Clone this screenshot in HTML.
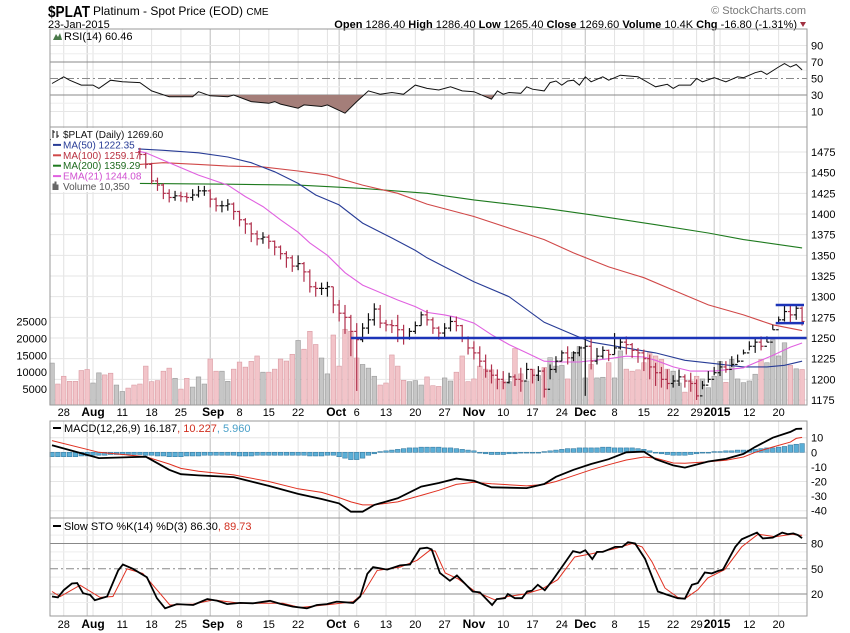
<!DOCTYPE html>
<html><head><meta charset="utf-8"><style>
html,body{margin:0;padding:0;background:#fff;}
svg{display:block;font-family:"Liberation Sans",Arial,sans-serif;}
</style></head><body>
<svg id="c" width="850" height="633" viewBox="0 0 850 633" xmlns="http://www.w3.org/2000/svg">
<g>
<text x="48" y="17" font-size="16" font-weight="bold" textLength="42" lengthAdjust="spacingAndGlyphs">$PLAT</text>
<text x="93" y="15" font-size="12">Platinum  - Spot Price (EOD) <tspan font-size="10">CME</tspan></text>
<text x="48" y="28" font-size="11">23-Jan-2015</text>
<text x="806" y="14" font-size="11" fill="#777" text-anchor="end">© StockCharts.com</text>
<text x="797" y="28" font-size="11" text-anchor="end"><tspan font-weight="bold">Open</tspan> 1286.40  <tspan font-weight="bold">High</tspan> 1286.40  <tspan font-weight="bold">Low</tspan> 1265.40  <tspan font-weight="bold">Close</tspan> 1269.60  <tspan font-weight="bold">Volume</tspan> 10.4K  <tspan font-weight="bold">Chg</tspan> -16.80 (-1.31%)</text>
<path d="M800 22 L806 22 L803 27 Z" fill="#a03040"/>
</g>
<g id="grid"></g>
<g id="marks"></g>
<g id="frames"></g>
</svg>
<script>
// ---------- DATA ----------
const closes = [1490,1488,1485,1484,1480,1478,1476,1480,1482,1478,1475,1479,1481,1477,1475,
1472,1460,1440,1435,1425,1420,1422,1421,1420,1423,1428,1428,1418,1410,1410,1412,1403,1393,1388,1376,1370,1372,1367,1360,1352,1347,1337,1340,1330,1312,1310,1310,1312,1290,1280,1275,1258,
1248,1262,1272,1285,1268,1266,1265,1260,1250,1258,1265,1278,1272,
1262,1256,1262,1270,1265,1250,1238,1232,1222,1210,1205,1200,1196,1203,1200,1198,1212,1205,1210,1188,1212,1222,1232,1226,1232,1238,1240,1222,1228,1235,1230,1238,1245,1242,1235,1232,1225,1215,1208,1200,1195,1198,1203,1198,1195,1180,1193,1200,1208,1215,1212,1218,1222,1232,1240,1245,1240,1245,1260,1272,1282,1278,1286,1270];
const highs = [1496,1494,1492,1490,1488,1484,1482,1486,1488,1485,1482,1485,1487,1484,1481,
1480,1474,1462,1444,1437,1430,1428,1427,1426,1430,1434,1434,1430,1420,1416,1418,1414,1404,1395,1390,1380,1378,1375,1368,1362,1355,1350,1350,1342,1333,1318,1317,1318,1312,1296,1290,1278,
1268,1268,1280,1292,1290,1272,1272,1278,1266,1262,1270,1282,1284,
1275,1264,1268,1276,1276,1266,1252,1246,1240,1230,1218,1212,1210,1208,1206,1214,1220,1212,1216,1214,1218,1228,1235,1240,1234,1240,1252,1250,1238,1240,1236,1256,1250,1252,1244,1238,1236,1230,1220,1215,1212,1205,1212,1206,1208,1200,1198,1210,1215,1222,1222,1228,1230,1236,1246,1250,1252,1252,1266,1276,1290,1290,1290,1288];
const lows = [1484,1482,1480,1478,1475,1472,1470,1474,1476,1472,1470,1472,1475,1471,1468,
1466,1455,1436,1428,1418,1414,1416,1415,1414,1416,1420,1422,1408,1403,1402,1404,1393,1385,1376,1366,1362,1364,1358,1350,1345,1335,1330,1332,1318,1305,1300,1302,1300,1280,1270,1255,1228,
1186,1245,1255,1265,1262,1258,1256,1245,1242,1248,1255,1265,1265,
1255,1248,1250,1258,1258,1245,1230,1224,1215,1202,1195,1188,1188,1195,1192,1185,1200,1195,1198,1178,1200,1208,1222,1218,1222,1228,1180,1212,1218,1225,1222,1230,1236,1230,1226,1220,1210,1200,1192,1190,1188,1190,1192,1190,1185,1175,1188,1196,1205,1204,1208,1215,1220,1230,1235,1232,1235,1245,1260,1268,1270,1268,1272,1265];
const volumes = [12.7,6.5,8.8,7.3,7.3,10.5,10.8,6.8,9.8,9.2,9.7,6.2,4.3,5.3,6.2,6.5,11.8,7.2,7.5,10.3,11.2,8.2,5.0,8.2,5.6,8.6,6.5,13.9,10.3,10.3,7.3,10.9,13.0,11.5,13.2,14.8,10.0,10.0,10.9,13.9,13.3,15.3,19.4,16.8,22.1,18.2,14.2,9.5,21.0,11.8,22.7,22.1,14.2,12.3,11.2,8.8,6.2,6.8,15.1,11.8,7.6,7.2,7.5,6.2,
8.6,6.0,5.8,8.3,7.4,10.0,14.8,7.2,8.0,11.8,10.9,10.7,8.0,7.4,7.2,17.0,9.5,7.4,10.9,9.0,11.4,14.3,11.8,12.0,8.0,15.9,17.6,8.3,12.3,8.3,8.5,12.8,8.3,16.3,10.9,10.3,10.7,12.8,15.8,14.8,13.8,10.9,10.3,6.8,4.1,7.4,8.8,8.0,5.4,8.8,13.2,7.0,13.8,8.0,6.9,7.4,9.4,13.8,12.8,19.6,14.8,18.7,12.0,11.0,10.8];
const ma50Days = [14,19,25,30,34,38,42,45,49,53,58,62,64,67,72,78,84,89,92,98,103,108,113,118,122,125,128];
const ma50Vals = [1479,1477,1474,1469,1462,1451,1437,1423,1411,1389,1371,1356,1347,1336,1318,1300,1269,1254,1245,1238,1232,1223,1219,1215,1215,1217,1222];
const ma100Days = [15,19,25,30,36,42,47,53,59,64,72,78,84,89,95,101,106,112,118,123,128];
const ma100Vals = [1460,1462,1460,1458,1457,1452,1447,1435,1425,1412,1397,1383,1369,1353,1336,1323,1308,1290,1278,1266,1259];
const ma200Days = [15,30,42,53,64,72,84,92,103,112,118,128];
const ma200Vals = [1437,1436,1435,1431,1425,1417,1407,1399,1387,1377,1369,1359];
const emaDays = [14,16,19,25,30,33,36,39,42,44,47,50,53,59,62,64,67,69,72,75,78,81,84,87,90,95,98,101,103,106,109,113,118,120,123,126,128];
const emaVals = [1477,1474,1465,1447,1435,1421,1409,1393,1378,1365,1350,1329,1314,1296,1288,1281,1278,1275,1268,1254,1242,1232,1222,1221,1221,1225,1228,1227,1223,1215,1210,1210,1214,1220,1229,1239,1244];
const rsiDays = [0,2,3,5,7,8,10,12,15,17,20,24,25,27,30,31,34,37,38,39,42,43,46,47,50,52,54,56,58,60,62,64,66,68,70,72,74,75,76,77,78,80,81,82,84,85,86,87,88,89,90,91,92,94,95,97,100,102,103,105,106,107,109,110,111,113,115,117,118,120,121,122,124,125,126,127,128];
const rsiVals = [44,52,48,42,42,38,48,46,45,35,28,28,34,29,28,30,22,20,22,19,14,18,16,18,8,22,35,31,33,31,42,38,36,40,35,34,28,25,35,31,33,32,40,37,35,45,47,42,47,48,42,52,46,52,48,54,52,44,40,43,38,42,42,50,46,51,46,52,51,57,59,55,64,68,64,67,60.46];
const macdDays = [0,8,16,20,22,25,31,37,42,46,49,51,53,55,59,63,66,69,72,75,81,84,86,89,92,95,98,101,103,106,108,112,115,118,120,123,126,127,128];
const macdVals = [4.8,-4,-3,-12,-15,-15.8,-17,-23,-28.5,-32,-35,-40.7,-40.7,-36,-31.5,-23.5,-21,-18,-19.5,-24,-24.5,-21.7,-16.8,-12,-8,-4.7,0,0.5,-4.7,-9,-10.5,-6.3,-4.5,-1.1,3.7,10,14,16,16.187];
const signalVals = [8,0,-3,-8,-11,-13,-15.5,-20,-25,-27.5,-31,-34,-36,-36,-34,-29.5,-26,-22,-20.5,-21.5,-23,-22,-20,-16,-12,-8.5,-5.3,-3.2,-4,-7.3,-7.5,-6.5,-5.5,-3.2,0,3.6,7,9.5,10.227];
const histVals = [-3,-3,-3,-3,-3,-2.5,-2.5,-2,-2,-2,-1.5,-1.5,-1.5,-1.5,-1.5,
-1.5,-2,-2,-2.5,-2.5,-3,-3,-3,-2.5,-2.5,
-2.5,-2,-2,-2,-2,-2,-2,-2.5,-2.5,-2.5,-2,-2,-2,-2,-2,-2,-2,-2,-2,-2.5,-2.5,-2.5,-2,-2,-3,-4,
-5,-5,-4,-2,-1,
0.5,1,1.5,2,2.5,3,3,3.5,3.5,
3.5,3.5,3,3,2.5,2,1.5,1,
0,-1,-1.5,-1.5,-1.5,-1,-1,
-0.5,-0.5,-0.2,0,0.5,
1,1.5,2,2.5,2.5,3,3,3,3,3.5,3.5,3,3,3,3,2.5,2,
1,-0.5,-1,-1.5,-2,-2,-2,-1.5,-1,
-0.5,0,0.5,0.5,1,
1,1.5,1.5,1.5,2,2.5,
3,3,3.5,4,5,5.5,5.96];
const stoKDays = [0,1,2,3.4,4.3,5.3,6.5,7.3,9.4,11.3,12.1,13.8,16.2,17.9,19.3,21.3,24.1,26.5,28.2,29.9,32.1,34.3,37.2,38.9,41.1,43.5,45.2,46.9,48.6,51.4,52.6,53.8,54.8,57.2,59.4,61.1,62.8,64,64.8,66.2,67.9,69.1,71.8,73,75.1,75.9,77.3,77.8,79,80.2,81.1,81.9,82.9,84.1,85.5,87.5,88.9,90.1,91,92.2,93,94,96.1,97.3,98.3,99.5,101.2,103.4,104.6,106.8,108,109.2,110.2,111.4,112.6,113.7,114.5,116.6,117.7,120.3,121.3,123,124.6,125.6,126.5,127.3,128];
const stoKVals = [17,16,24.5,32.5,33,21,19,12.7,17,48,55,50,40,15,3,8,7,14,12,8,9.5,9,12,8.5,5,3,7,8,11,9.5,17,44,52,49,54,55,74,75,73,45,35.7,42,23,22,7,14,15,20,15,15,23,24,31,24.5,37,57,71,69,72,61.5,70,70,76,76,81.5,80,62,23,20,15,14.5,31,33,45.6,44.5,47.5,49,76,85,93,86,87,93,91,92,90,86.3];
const stoDDays = [0,1.4,4.8,8.2,10.4,12.8,15.5,18.4,20.1,24.1,27.5,32.1,39.4,42.3,48,51.4,53.1,55.5,59.4,62.3,64.5,65.4,67.1,69.3,72.2,75.6,77.8,80.7,83.6,86.3,89.2,92.2,96.1,99,100.7,102.4,104.6,106.8,108,110.2,111.9,114.8,117.7,120.5,123.4,126.3,127.3,128];
const stoDVals = [23,17,30.5,16,17,50,44.5,21,7,8,13,9,9,4,8,11,21,48,52,60,72,71,45,38,23,13,17,20,26,37,64,68,74,80,76,58,27,16,14.5,25,39,49,76,91,88,91,90,89.73];
const priceTicks = [1175,1200,1225,1250,1275,1300,1325,1350,1375,1400,1425,1450,1475];
const volTicks = [5000,10000,15000,20000,25000];
const rsiTicks = [10,30,50,70,90];
const macdTicks = [10,0,-10,-20,-30,-40];
const stoTicks = [20,50,80];
const weekDays = [2,7,12,17,22,27,32,37,42,47,52,57,62,67,72,77,82,87,91,96,101,106,110,114,119,124];
const monthDays = [6,27,49,72,91,113];
const dateLabels = ["28","Aug","11","18","25","Sep","8","15","22","Oct","6","13","20","27","Nov","10","17","24","Dec","8","15","22","29","2015","12","20"];
const dateLabelDays = [2,7,12,17,22,27.5,32,37,42,48.5,52,57,62,67,72,77,82,87,91,96,101,106,110,113.5,119,124];
const supportLevel = 1250, rangeTop = 1290, rangeBottom = 1268;

// ---------- SCALES ----------
const L = 50, R = 807;
const X = i => 52 + i * 5.86;
const PY = p => 152 + (1475 - p) * 0.8267;
const VY = v => 406 - v * 3.38;
const RY = v => 62 + (70 - v) * 0.825;
const MY = v => 452.3 - v * 1.46;
const SY = v => 543.5 + (80 - v) * 0.842;
const P = {rsi:[29,127], main:[127,405], macd:[421,518], sto:[518,616]};

const NS = "http://www.w3.org/2000/svg";
const grid = document.getElementById('grid'), marks = document.getElementById('marks'), frames = document.getElementById('frames');
function mk(tag, attrs, parent){const e=document.createElementNS(NS,tag);for(const k in attrs)e.setAttribute(k,attrs[k]);parent.appendChild(e);return e;}
function txt(s, attrs, parent){const e=mk('text',attrs,parent);e.textContent=s;return e;}
function poly(days, vals, yf){return days.map((d,i)=>X(d).toFixed(1)+','+yf(vals[i]).toFixed(1)).join(' ');}

for (const [a,b] of Object.values(P)) {
  weekDays.forEach(d=>{const l=mk('line',{x1:X(d),x2:X(d),y1:a,y2:b,stroke:'#e2e2e2','stroke-width':1},grid);
  
  });
  monthDays.forEach(d=>{const l=mk('line',{x1:X(d),x2:X(d),y1:a,y2:b,stroke:'#c4c4c4','stroke-width':1},grid);
  
  });
}
[20,40,60,80].forEach(v=>mk('line',{x1:L,x2:R,y1:RY(v),y2:RY(v),stroke:'#eee'},grid));
rsiTicks.forEach(v=>{
  if(v===70||v===30){mk('line',{x1:L,x2:R,y1:RY(v),y2:RY(v),stroke:'#888'},grid);}
  else if(v===50){mk('line',{x1:L,x2:R,y1:RY(v),y2:RY(v),stroke:'#888','stroke-dasharray':'8,3,2,3'},grid);}
  else mk('line',{x1:L,x2:R,y1:RY(v),y2:RY(v),stroke:'#e6e6e6'},grid);
  const t=txt(String(v),{x:811,y:RY(v)+4,'font-size':11},frames);
  
  
});
priceTicks.forEach(p=>{
  mk('line',{x1:L,x2:R,y1:PY(p),y2:PY(p),stroke:'#e6e6e6'},grid);
  const t=txt(String(p),{x:811,y:PY(p)+4,'font-size':11},frames);
  
  
});
volTicks.forEach(v=>{
  const t=txt(String(v),{x:47,y:VY(v/1000)+4,'font-size':11,'text-anchor':'end'},frames);
  
  
});
macdTicks.forEach(v=>{
  mk('line',{x1:L,x2:R,y1:MY(v),y2:MY(v),stroke:'#e6e6e6'},grid);
  const t=txt(String(v),{x:811,y:MY(v)+4,'font-size':11},frames);
  
  
});
[10,30,40,60,70,90].forEach(v=>mk('line',{x1:L,x2:R,y1:SY(v),y2:SY(v),stroke:'#eee'},grid));
stoTicks.forEach(v=>{
  mk('line',{x1:L,x2:R,y1:SY(v),y2:SY(v),stroke:'#888','stroke-dasharray':v===50?'8,3,2,3':'none'},grid);
  const t=txt(String(v),{x:811,y:SY(v)+4,'font-size':11},frames);
  
  
});

// RSI
const clip = mk('clipPath',{id:'below30'},marks);
mk('rect',{x:L,y:RY(30),width:R-L,height:127-RY(30)},clip);
const rsiFill = mk('polygon',{points: X(rsiDays[0])+','+RY(30)+' '+poly(rsiDays,rsiVals,RY)+' '+X(rsiDays[rsiDays.length-1])+','+RY(30), fill:'#a47e79','clip-path':'url(#below30)'},marks);


const rsiLine = mk('polyline',{points:poly(rsiDays,rsiVals,RY),fill:'none',stroke:'#111','stroke-width':1},marks);



// VOLUME
volumes.forEach((v,i)=>{
  const up = i===0 ? true : closes[i] >= closes[i-1];
  const r = mk('rect',{x:X(i)-2.3,y:VY(v),width:4.6,height:405-VY(v),fill:up?'#c6c6c6':'#f2c4c9',stroke:up?'#9a9a9a':'#d99aa2','stroke-width':0.6},marks);
  
  
});
// MAs
const maDefs = [[ma200Days,ma200Vals,'#1e7a1e','ma200-line'],[ma100Days,ma100Vals,'#d04848','ma100-line'],[ma50Days,ma50Vals,'#283c96','ma50-line'],[emaDays,emaVals,'#e060e0','ema21-line']];
maDefs.forEach(([d,v,c,n])=>{
  const pl = mk('polyline',{points:poly(d,v,PY),fill:'none',stroke:c,'stroke-width':1.1},marks);
  
  
});
// PRICE BARS
closes.forEach((c,i)=>{
  const up = i===0 ? true : c >= closes[i-1];
  const col = up ? '#111' : '#b0304c';
  const open = i===0 ? c : closes[i-1];
  const g = mk('g',{stroke:col,'stroke-width':1.2},marks);
  
  
  mk('line',{x1:X(i),x2:X(i),y1:PY(highs[i]),y2:PY(lows[i])},g);
  mk('line',{x1:X(i)-2.5,x2:X(i),y1:PY(open),y2:PY(open)},g);
  mk('line',{x1:X(i),x2:X(i)+2.5,y1:PY(c),y2:PY(c)},g);
});
const sup = mk('line',{x1:X(51),x2:R,y1:PY(supportLevel),y2:PY(supportLevel),stroke:'#1c34b8','stroke-width':2.5},marks);


const rt = mk('line',{x1:X(123.5),x2:R-3,y1:PY(rangeTop),y2:PY(rangeTop),stroke:'#1c34b8','stroke-width':2.5},marks);


const rb = mk('line',{x1:X(123.5),x2:R-3,y1:PY(rangeBottom),y2:PY(rangeBottom),stroke:'#1c34b8','stroke-width':2.5},marks);



// MACD
histVals.forEach((h,i)=>{
  const y0 = MY(0), y1 = MY(h);
  const r = mk('rect',{x:X(i)-2.3,y:Math.min(y0,y1),width:4.6,height:Math.max(0.8,Math.abs(y1-y0)),fill:'#5aaed6',stroke:'#3a7ea4','stroke-width':0.6},marks);
  
  
});
const sigLine = mk('polyline',{points:poly(macdDays,signalVals,MY),fill:'none',stroke:'#e03020','stroke-width':1},marks);


const macdLine = mk('polyline',{points:poly(macdDays,macdVals,MY),fill:'none',stroke:'#000','stroke-width':1.8},marks);



// STO
const dLine = mk('polyline',{points:poly(stoDDays,stoDVals,SY),fill:'none',stroke:'#e03020','stroke-width':1},marks);


const kLine = mk('polyline',{points:poly(stoKDays,stoKVals,SY),fill:'none',stroke:'#000','stroke-width':1.8},marks);



// FRAMES & LEGENDS
for (const k in P){const [a,b]=P[k];const f=mk('rect',{x:L,y:a,width:R-L,height:b-a,fill:'none',stroke:'#999'},frames);

}
[[405,421,416],[616,633,628]].forEach(([a,b,ty])=>{
  dateLabels.forEach((s,i)=>{
    const bold = isNaN(Number(s)) || s==='2015';
    const t = txt(s,{x:X(dateLabelDays[i]),y:ty,'font-size':bold?12:11,'font-weight':bold?'bold':'normal','text-anchor':'middle'},frames);
    
    
  });
});
const rl = txt('RSI(14) 60.46',{x:64,y:40,'font-size':11},frames);


mk('path',{d:'M53 40 L56 34 L58 37 L60 33 L62 40 Z',fill:'#4a7a4a'},frames);
mk('rect',{x:51,y:128,width:87,height:64,fill:'#fff'},frames);
const legItems = [['$PLAT (Daily) 1269.60','#111',null,'price-legend'],['MA(50) 1222.35','#283c96','#283c96','ma50-legend'],['MA(100) 1259.17','#b83040','#d04848','ma100-legend'],['MA(200) 1359.29','#1e6a1e','#1e7a1e','ma200-legend'],['EMA(21) 1244.08','#d050d0','#e060e0','ema21-legend'],['Volume 10,350','#555',null,'volume-legend']];
legItems.forEach(([s,c,lc,n],i)=>{
  const y = 138 + i*10.4;
  const t = txt(s,{x:63,y:y,'font-size':10,fill:c},frames);
  
  
  if (lc) mk('line',{x1:53,x2:61,y1:y-3.5,y2:y-3.5,stroke:lc,'stroke-width':2},frames);
});
mk('path',{d:'M53 130 v8 M55 132 h-2 M57 131 v7 M57 136 h2',stroke:'#111','stroke-width':1,fill:'none'},frames);
mk('path',{d:'M53 190 v-6 h1 v6 M55 190 v-8 h1 v8 M57 190 v-5 h1 v5',stroke:'#666','stroke-width':1,fill:'none'},frames);
const ml = mk('text',{x:64,y:432,'font-size':11},frames);


ml.innerHTML = 'MACD(12,26,9) 16.187<tspan fill="#d03020">, 10.227</tspan><tspan fill="#4aa0c8">, 5.960</tspan>';
mk('line',{x1:53,x2:61,y1:428,y2:428,stroke:'#000','stroke-width':2},frames);
const sl = mk('text',{x:64,y:530,'font-size':11},frames);


sl.innerHTML = 'Slow STO %K(14) %D(3) 86.30<tspan fill="#d03020">, 89.73</tspan>';
mk('line',{x1:53,x2:61,y1:526,y2:526,stroke:'#000','stroke-width':2},frames);
</script>
</body></html>
